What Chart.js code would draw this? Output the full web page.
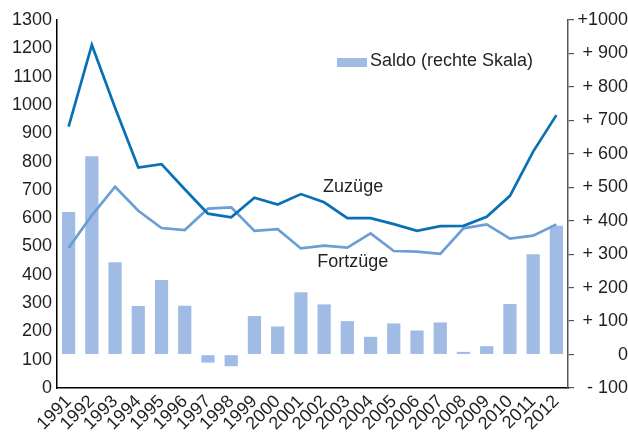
<!DOCTYPE html>
<html>
<head>
<meta charset="utf-8">
<script src="https://cdn.jsdelivr.net/npm/chart.js"></script>
<style>
  body { margin: 0; background: #fff; }
</style>
</head>
<body>
<canvas id="grafico" width="628" height="436"></canvas>
<script>
const jahre = ['1991', '1992', '1993', '1994', '1995', '1996', '1997', '1998', '1999', '2000', '2001',
               '2002', '2003', '2004', '2005', '2006', '2007', '2008', '2009', '2010', '2011', '2012'];
const zuzuege = [923, 1212, 990, 779, 791, 702, 616, 603, 672, 648, 685, 656, 600, 600, 579, 555, 572, 573, 605, 679, 835, 964];
const fortzuege = [495, 610, 711, 626, 565, 558, 634, 638, 555, 561, 493, 503, 496, 546, 484, 482, 474, 564, 578, 528, 538, 578];
const saldo = [426, 593, 276, 145, 223, 146, -24, -35, 115, 84, 186, 150, 100, 53, 93, 72, 96, 8, 25, 151, 300, 385];

const rechteTicks = ['- 100', '0', '+ 100', '+ 200', '+ 300', '+ 400', '+ 500', '+ 600', '+ 700', '+ 800', '+ 900', '+1000'];

const schrift = { family: '"Liberation Sans", Arial, sans-serif', size: 18 };
const textFarbe = '#231f20';

// Beschriftungen der Linien und Legende nur für Saldo
const beschriftung = {
    id: 'beschriftung',
    afterDatasetsDraw(chart) {
        const { ctx, scales } = chart;
        const x = scales.x, y = scales.y;
        const ds = chart.data.datasets;
        ctx.save();
        ctx.font = '18px "Liberation Sans", Arial, sans-serif';
        ctx.textBaseline = 'middle';
        ctx.textAlign = 'left';
        ctx.fillStyle = textFarbe;
        ctx.fillText(ds[1].label, x.getPixelForValue(11) - 1, y.getPixelForValue(710));
        ctx.fillText(ds[2].label, x.getPixelForValue(10.7), y.getPixelForValue(445));

        // Legende
        ctx.fillStyle = ds[0].backgroundColor;
        ctx.fillRect(337, 58, 30, 9);
        ctx.fillStyle = textFarbe;
        ctx.fillText(ds[0].label, 370, 61);
        ctx.restore();
    }
};

new Chart(document.getElementById('grafico'), {
    type: 'bar',
    data: {
        labels: jahre,
        datasets: [
            {
                label: 'Saldo (rechte Skala)',
                data: saldo,
                yAxisID: 'y2',
                backgroundColor: '#a0bce4',
                barPercentage: 0.57,
                categoryPercentage: 1,
                order: 3
            },
            {
                type: 'line',
                label: 'Zuzüge',
                data: zuzuege,
                yAxisID: 'y',
                borderColor: '#0a70b6',
                borderWidth: 2.7,
                pointRadius: 0,
                tension: 0,
                order: 1
            },
            {
                type: 'line',
                label: 'Fortzüge',
                data: fortzuege,
                yAxisID: 'y',
                borderColor: '#6b9fd3',
                borderWidth: 2.7,
                pointRadius: 0,
                tension: 0,
                order: 2
            }
        ]
    },
    options: {
        responsive: false,
        animation: false,
        devicePixelRatio: 1,
        layout: { padding: { top: 20, right: 0, bottom: 0, left: 0 } },
        plugins: {
            legend: { display: false },
            tooltip: { enabled: false }
        },
        scales: {
            x: {
                offset: true,
                grid: { display: true, drawOnChartArea: false, drawTicks: false },
                border: { display: true, color: '#000', width: 1.5 },
                ticks: {
                    font: schrift,
                    color: textFarbe,
                    minRotation: 45,
                    maxRotation: 45,
                    autoSkip: false,
                    padding: 3
                },
                afterFit: s => { s.height = 48; }
            },
            y: {
                position: 'left',
                min: 0,
                max: 1300,
                grid: { display: true, drawOnChartArea: false, drawTicks: false },
                border: { display: true, color: '#000', width: 1.5 },
                ticks: { stepSize: 100, font: schrift, color: textFarbe, padding: 5, callback: v => String(v) },
                afterFit: s => { s.width = 57; }
            },
            y2: {
                position: 'right',
                min: -100,
                max: 1000,
                grid: { display: true, drawOnChartArea: false, drawTicks: true, tickLength: 6, color: '#555', lineWidth: 1.2 },
                border: { display: true, color: '#555', width: 1.5 },
                ticks: {
                    stepSize: 100,
                    font: schrift,
                    color: textFarbe,
                    crossAlign: 'far',
                    padding: 3,
                    callback: (v, i) => rechteTicks[i]
                },
                afterFit: s => { s.width = 60; }
            }
        }
    },
    plugins: [beschriftung]
});
</script>
</body>
</html>
